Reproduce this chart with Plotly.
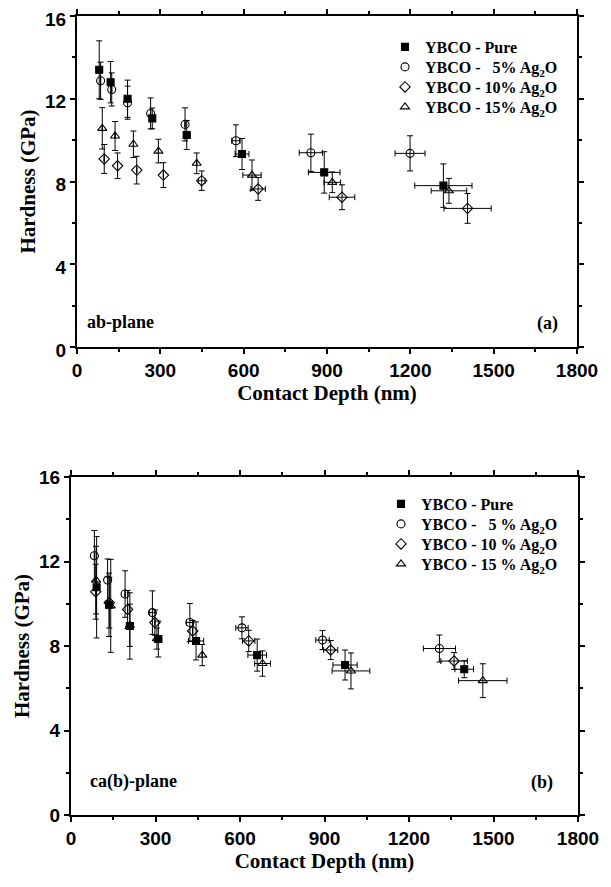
import plotly.graph_objects as go

# ---- panel (a): ab-plane ----
a_pure_x = [80, 121, 182, 271, 395, 594, 890, 1319]
a_pure_y = [13.4, 12.8, 12.0, 11.05, 10.25, 9.33, 8.44, 7.8]
a_pure_ey = [1.4, 1.0, 0.9, 0.5, 0.7, 0.75, 1.0, 1.05]
a_pure_ex = [0, 0, 0, 0, 12, 25, 57, 103]

a_5_x = [85, 125, 182, 265, 389, 572, 842, 1199]
a_5_y = [12.87, 12.45, 11.81, 11.29, 10.76, 9.97, 9.39, 9.36]
a_5_ey = [0.9, 0.8, 0.8, 0.75, 0.8, 0.77, 0.9, 0.85]
a_5_ex = [0, 0, 0, 0, 0, 15, 42, 54]

a_10_x = [98, 146, 215, 311, 449, 652, 954, 1406]
a_10_y = [9.09, 8.76, 8.55, 8.31, 8.04, 7.64, 7.24, 6.70]
a_10_ey = [0.7, 0.62, 0.67, 0.6, 0.47, 0.55, 0.6, 0.72]
a_10_ex = [0, 0, 0, 0, 12, 26, 46, 85]

a_15_x = [91, 137, 203, 293, 431, 630, 919, 1339]
a_15_y = [10.57, 10.2, 9.8, 9.47, 8.88, 8.31, 7.96, 7.55]
a_15_ey = [1.0, 0.7, 0.64, 0.57, 0.5, 0.73, 0.5, 0.6]
a_15_ex = [0, 0, 0, 0, 0, 33, 30, 64]

# ---- panel (b): ca(b)-plane ----
b_pure_x = [91, 135, 209, 310, 444, 661, 973, 1396]
b_pure_y = [10.78, 9.95, 8.95, 8.33, 8.24, 7.57, 7.1, 6.9]
b_pure_ey = [2.4, 1.5, 1.57, 0.85, 0.9, 0.76, 0.71, 0.4]
b_pure_ex = [0, 0, 12, 12, 27, 33, 43, 33]

b_5_x = [83, 130, 192, 289, 422, 607, 893, 1308]
b_5_y = [12.27, 11.12, 10.46, 9.58, 9.11, 8.86, 8.28, 7.88]
b_5_ey = [1.2, 1.0, 1.1, 1.03, 0.9, 0.52, 0.45, 0.64]
b_5_ex = [0, 0, 0, 10, 12, 22, 24, 57]

b_10_x = [88, 136, 201, 298, 432, 631, 922, 1360]
b_10_y = [10.57, 10.05, 9.73, 9.11, 8.71, 8.24, 7.81, 7.29]
b_10_ey = [1.3, 1.2, 0.9, 0.6, 0.5, 0.5, 0.45, 0.4]
b_10_ex = [0, 0, 0, 0, 0, 22, 25, 47]

b_15_x = [89, 141, 209, 305, 466, 680, 994, 1462]
b_15_y = [11.12, 9.9, 8.98, 8.35, 7.57, 7.17, 6.82, 6.36]
b_15_ey = [1.6, 2.2, 1.0, 0.5, 0.5, 0.6, 0.85, 0.8]
b_15_ex = [0, 0, 0, 0, 0, 28, 67, 86]

x_ticks = [0, 300, 600, 900, 1200, 1500, 1800]
y_ticks = [0, 4, 8, 12, 16]

NB = "\u00a0"
names_a = ["<b>YBCO - Pure</b>",
           f"<b>YBCO -{NB*3}5% Ag<sub>2</sub>O</b>",
           "<b>YBCO - 10% Ag<sub>2</sub>O</b>",
           "<b>YBCO - 15% Ag<sub>2</sub>O</b>"]
names_b = ["<b>YBCO - Pure</b>",
           f"<b>YBCO -{NB*3}5 % Ag<sub>2</sub>O</b>",
           "<b>YBCO - 10 % Ag<sub>2</sub>O</b>",
           "<b>YBCO - 15 % Ag<sub>2</sub>O</b>"]

symbols = ["square", "circle-open", "diamond-open", "triangle-up-open"]
sizes = [7, 8, 8, 8]

SERIF = "Liberation Serif, Times New Roman, serif"
SANS = "Liberation Sans, Arial, sans-serif"

# the page body keeps its default 8 px margin, so the figure is made smaller
W, H = 603, 867
OFF = 8

fig = go.Figure()

series_a = [(a_pure_x, a_pure_y, a_pure_ex, a_pure_ey),
            (a_5_x, a_5_y, a_5_ex, a_5_ey),
            (a_10_x, a_10_y, a_10_ex, a_10_ey),
            (a_15_x, a_15_y, a_15_ex, a_15_ey)]
series_b = [(b_pure_x, b_pure_y, b_pure_ex, b_pure_ey),
            (b_5_x, b_5_y, b_5_ex, b_5_ey),
            (b_10_x, b_10_y, b_10_ex, b_10_ey),
            (b_15_x, b_15_y, b_15_ex, b_15_ey)]

# one small legend per entry so the rows can sit as tightly as in the original
legend_ids = [["legend", "legend2", "legend3", "legend4"],
              ["legend5", "legend6", "legend7", "legend8"]]

for p, (series, names, xa, ya) in enumerate([(series_a, names_a, "x", "y"),
                                             (series_b, names_b, "x2", "y2")]):
    for i, (x, y, ex, ey) in enumerate(series):
        fig.add_trace(go.Scatter(
            x=x, y=y, mode="markers", name=names[i],
            xaxis=xa, yaxis=ya, legend=legend_ids[p][i],
            marker=dict(symbol=symbols[i], size=sizes[i], color="black",
                        line=dict(color="black", width=1.1)),
            error_y=dict(type="data", array=ey, color="black", thickness=1, width=3),
            error_x=dict(type="data", array=ex, color="black", thickness=1, width=3),
        ))

def px_x(left, right):
    return [(left - OFF) / W, (right - OFF) / W]

def px_y(top, bottom):
    return [1 - (bottom - OFF) / H, 1 - (top - OFF) / H]

def xaxis_style(domain, anchor, standoff):
    return dict(domain=domain, anchor=anchor, range=[0, 1800], automargin=False,
                tickvals=x_ticks, ticktext=[f"<b>{v}</b>" for v in x_ticks],
                ticklabeloverflow="allow",
                showline=True, linecolor="black", linewidth=2, mirror="allticks",
                ticks="outside", ticklen=5, tickwidth=1.5, tickcolor="black",
                minor=dict(tickvals=[150, 450, 750, 1050, 1350, 1650], ticks="outside", ticklen=3,
                           tickwidth=1.5, tickcolor="black"),
                showgrid=False, zeroline=False,
                tickfont=dict(family=SANS, size=19, color="black"),
                title=dict(text="<b>Contact Depth (nm)</b>", standoff=standoff,
                           font=dict(family=SERIF, size=21, color="black")))

def yaxis_style(domain, anchor, shift):
    return dict(domain=domain, anchor=anchor, range=[0, 16], automargin=False,
                tickvals=y_ticks, ticktext=[f"<b>{v}</b>" for v in y_ticks],
                ticklabeloverflow="allow", ticklabelshift=shift,
                showline=True, linecolor="black", linewidth=2, mirror="allticks",
                ticks="outside", ticklen=5, tickwidth=1.5, tickcolor="black",
                minor=dict(tickvals=[2, 6, 10, 14], ticks="outside", ticklen=3,
                           tickwidth=1.5, tickcolor="black"),
                showgrid=False, zeroline=False,
                tickfont=dict(family=SANS, size=19, color="black"),
                title=dict(text="<b>Hardness (GPa)</b>", standoff=4,
                           font=dict(family=SERIF, size=21, color="black")))

legend_common = dict(bgcolor="rgba(0,0,0,0)", borderwidth=0, itemsizing="trace",
                     font=dict(family=SERIF, size=16, color="black"),
                     itemwidth=30, xanchor="left", yanchor="top")

# row centres (page pixels) of the legend entries, and left edge of each legend
legend_rows = [[48, 68, 88, 108], [505, 525, 545, 565]]
legend_left = [385, 381]
legend_layout = {}
for p in range(2):
    for i in range(4):
        legend_layout[legend_ids[p][i]] = dict(
            x=(legend_left[p] - OFF) / W,
            y=1 - (legend_rows[p][i] - 18 - OFF) / H,
            **legend_common)

fig.update_layout(
    width=W, height=H,
    margin=dict(l=0, r=0, t=0, b=0, autoexpand=False),
    paper_bgcolor="white", plot_bgcolor="white",
    showlegend=True,
    xaxis=xaxis_style(px_x(77, 577), "y", 4),
    yaxis=yaxis_style(px_y(16, 347), "x", 3),
    xaxis2=xaxis_style(px_x(71, 578), "y2", 0),
    yaxis2=yaxis_style(px_y(477, 815), "x2", 0),
    annotations=[
        dict(text="<b>ab-plane</b>", xref="x domain", yref="y domain", x=0.016, y=0.075,
             xanchor="left", yanchor="middle", showarrow=False,
             font=dict(family=SERIF, size=18, color="black")),
        dict(text="<b>(a)</b>", xref="x domain", yref="y domain", x=0.966, y=0.07,
             xanchor="right", yanchor="middle", showarrow=False,
             font=dict(family=SERIF, size=18, color="black")),
        dict(text="<b>ca(b)-plane</b>", xref="x2 domain", yref="y2 domain", x=0.034, y=0.098,
             xanchor="left", yanchor="middle", showarrow=False,
             font=dict(family=SERIF, size=18, color="black")),
        dict(text="<b>(b)</b>", xref="x2 domain", yref="y2 domain", x=0.955, y=0.095,
             xanchor="right", yanchor="middle", showarrow=False,
             font=dict(family=SERIF, size=18, color="black")),
    ],
    **legend_layout,
)

fig.write_html("out.html")
